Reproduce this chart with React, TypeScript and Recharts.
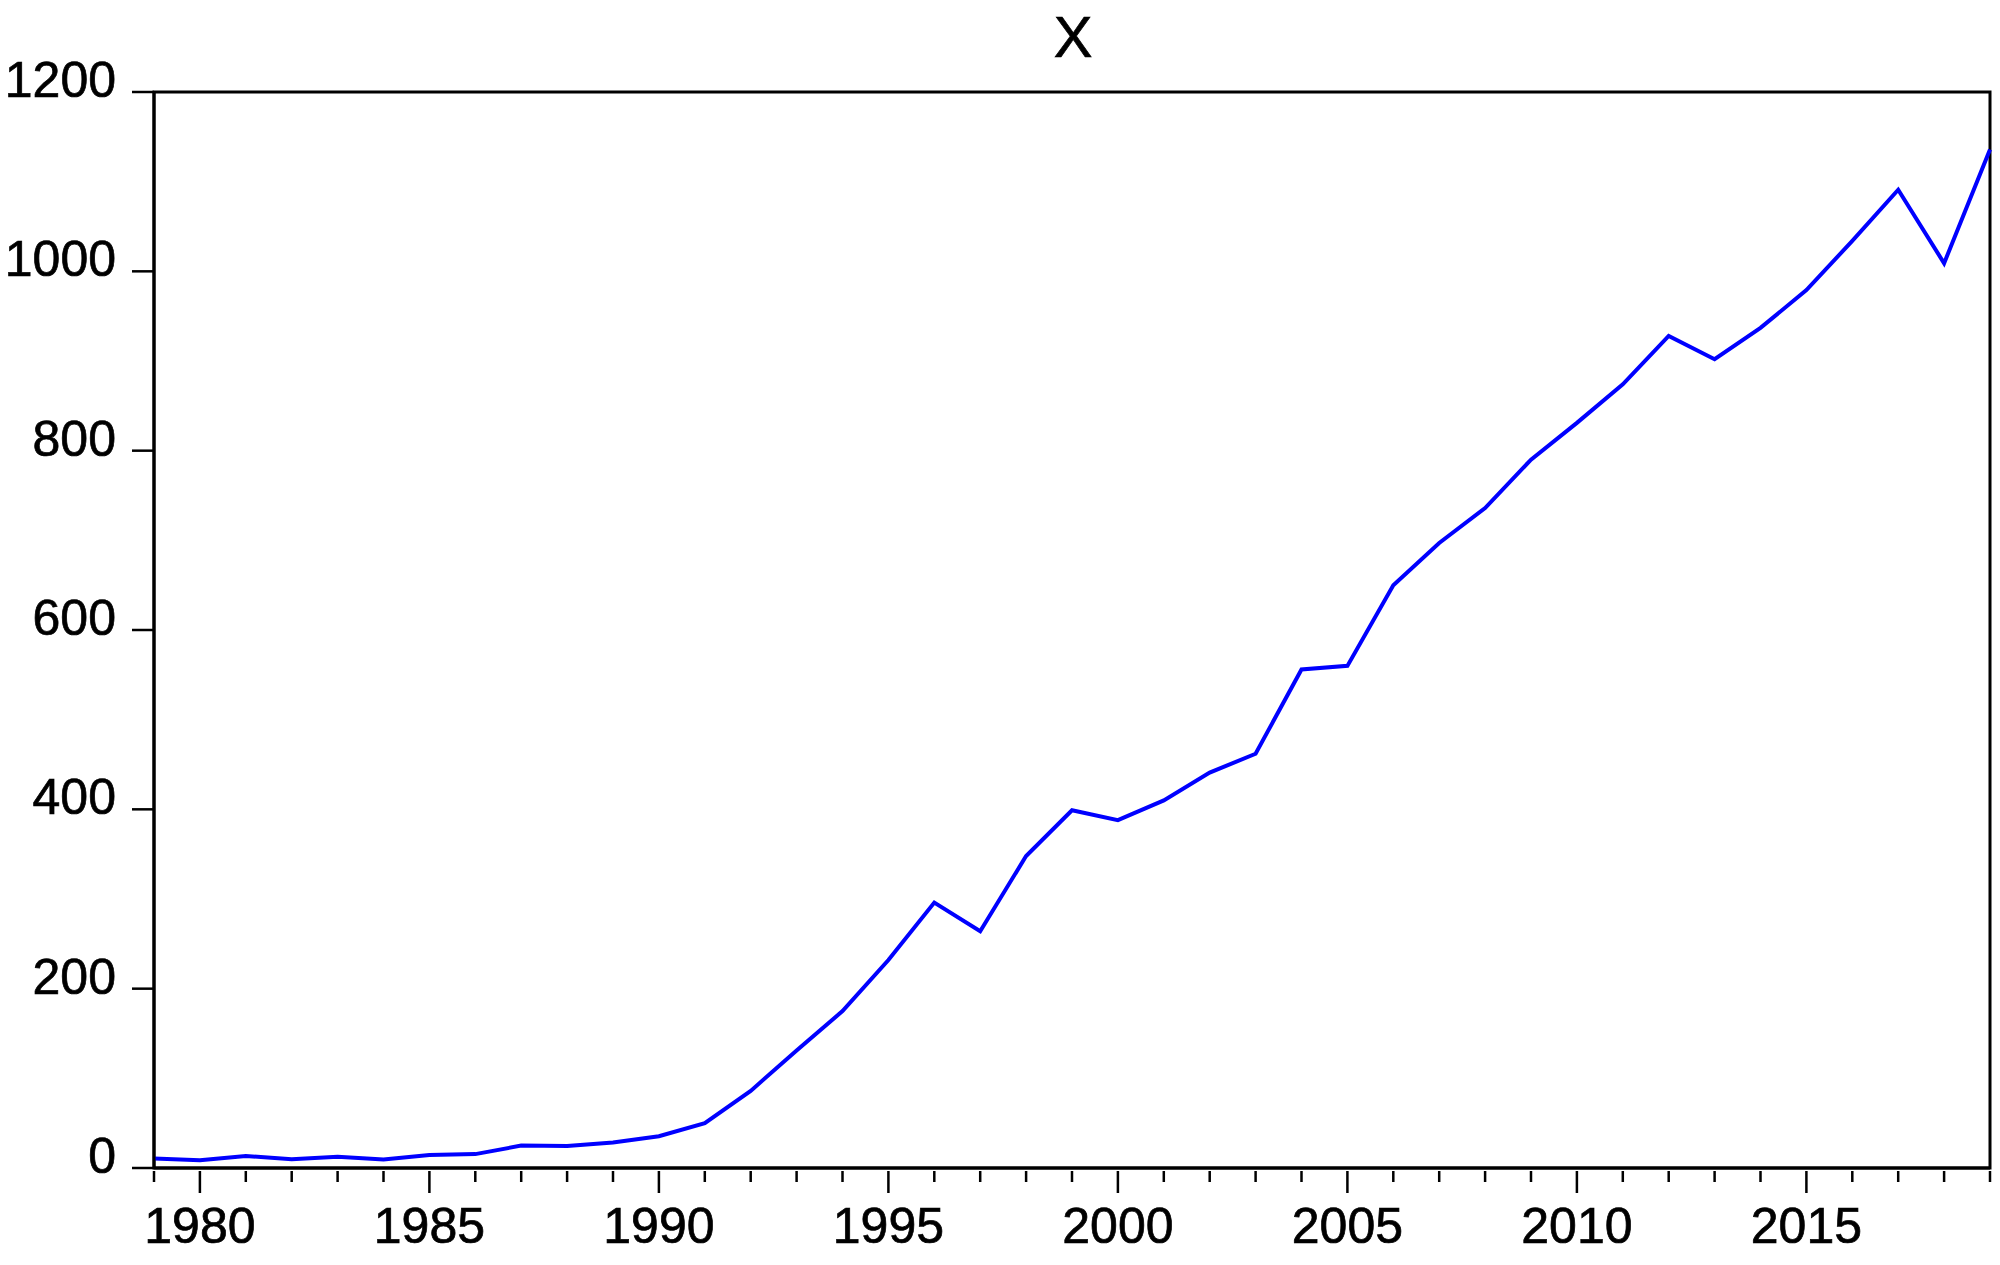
import React from "react";
import { LineChart, Line, XAxis, YAxis, ReferenceArea } from "recharts";

const years: number[] = [
  1979, 1980, 1981, 1982, 1983, 1984, 1985, 1986, 1987, 1988,
  1989, 1990, 1991, 1992, 1993, 1994, 1995, 1996, 1997, 1998,
  1999, 2000, 2001, 2002, 2003, 2004, 2005, 2006, 2007, 2008,
  2009, 2010, 2011, 2012, 2013, 2014, 2015, 2016, 2017, 2018, 2019,
];

const xValues: number[] = [
  10.5, 8.6, 13.4, 9.7, 12.5, 9.5, 14.5, 15.5, 25, 24.5,
  28.5, 35.5, 50, 86, 131, 175, 232, 296, 264, 348,
  399, 388, 410, 441, 462, 556, 560, 650, 697, 736,
  790, 831, 874, 928, 902, 937, 979, 1034, 1091, 1009, 1136,
];

const yTicks: number[] = [0, 200, 400, 600, 800, 1000, 1200];
const xTicks: number[] = years;
const majorYears: number[] = [1980, 1985, 1990, 1995, 2000, 2005, 2010, 2015];

const data = years.map((year, i) => ({ year, x: xValues[i] }));

const FONT = "'Liberation Sans', Arial, Helvetica, sans-serif";

const XTick = (props: any) => {
  const { x, y, payload } = props;
  const v = payload.value as number;
  const major = majorYears.includes(v);
  return (
    <g>
      <line x1={x} x2={x} y1={y + 3} y2={y + (major ? 25 : 14)} stroke="#000" strokeWidth={2.5} />
      {major && (
        <text
          x={x}
          y={y + 75}
          textAnchor="middle"
          fontFamily={FONT}
          fontSize={50}
          fill="#000"
          stroke="#000"
          strokeWidth={0.7}
        >
          {v}
        </text>
      )}
    </g>
  );
};

const YTick = (props: any) => {
  const { x, y, payload } = props;
  return (
    <g>
      <line x1={x - 22} x2={x} y1={y} y2={y} stroke="#000" strokeWidth={2.5} />
      <text
        x={x - 38}
        y={y + 5}
        textAnchor="end"
        fontFamily={FONT}
        fontSize={50}
        fill="#000"
        stroke="#000"
        strokeWidth={0.7}
      >
        {payload.value}
      </text>
    </g>
  );
};

export default function App() {
  return (
    <div style={{ position: "relative", width: 2000, height: 1265, background: "#fff" }}>
      <style>{`body{margin:0;background:#fff}`}</style>
      <LineChart
        width={2000}
        height={1265}
        data={data}
        margin={{ top: 92, right: 10, bottom: 0, left: 0 }}
      >
        <XAxis
          dataKey="year"
          type="number"
          domain={[1979, 2019]}
          ticks={xTicks}
          interval={0}
          tickLine={false}
          tickSize={0}
          tickMargin={0}
          height={97}
          axisLine={{ stroke: "#000", strokeWidth: 3 }}
          tick={<XTick />}
        />
        <YAxis
          type="number"
          domain={[0, 1200]}
          ticks={yTicks}
          interval={0}
          tickLine={false}
          tickSize={0}
          tickMargin={0}
          width={154}
          axisLine={{ stroke: "#000", strokeWidth: 3 }}
          tick={<YTick />}
        />
        <ReferenceArea
          x1={1979}
          x2={2019}
          y1={0}
          y2={1200}
          fill="none"
          fillOpacity={0}
          stroke="#000"
          strokeWidth={3}
          strokeOpacity={1}
        />
        <Line
          type="linear"
          dataKey="x"
          stroke="#0000FF"
          strokeWidth={4}
          dot={false}
          activeDot={false}
          isAnimationActive={false}
        />
      </LineChart>
      <svg
        width={2000}
        height={92}
        style={{ position: "absolute", left: 0, top: 0, pointerEvents: "none" }}
      >
        <text
          x={1073}
          y={57}
          textAnchor="middle"
          fontFamily={FONT}
          fontSize={58}
          fill="#000"
          stroke="#000"
          strokeWidth={0.7}
        >
          X
        </text>
      </svg>
    </div>
  );
}
